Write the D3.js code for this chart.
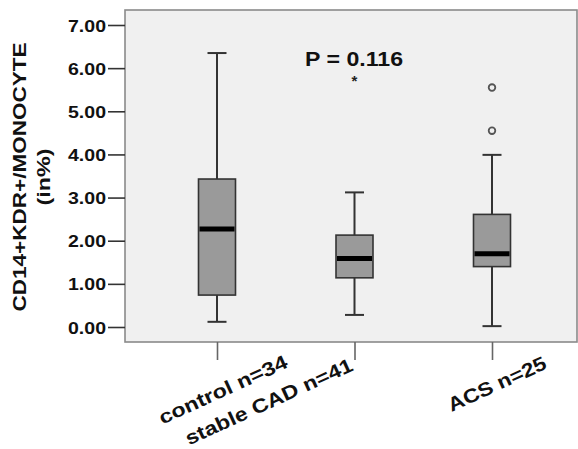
<!DOCTYPE html>
<html><head><meta charset="utf-8">
<script src="https://cdn.jsdelivr.net/npm/d3@7"></script>
<style>body{margin:0;background:#fff}svg{display:block}</style>
</head><body>
<svg id="c" width="578" height="449"></svg>
<script>
const categories = ["control n=34", "stable CAD n=41", "ACS n=25"];
const whiskerLow = [0.12, 0.28, 0.02];
const q1 = [0.74, 1.14, 1.40];
const median = [2.27, 1.59, 1.70];
const q3 = [3.43, 2.13, 2.61];
const whiskerHigh = [6.35, 3.12, 3.99];
const outliers = [[], [], [5.55, 4.55]];
const extremes = [[], [5.75], []];
const yTicks = [0, 1, 2, 3, 4, 5, 6, 7];
const pText = "P = 0.116";

const svg = d3.select("#c");
const plot = {left: 125, right: 577, top: 10, bottom: 342};
const y = d3.scaleLinear().domain([0, 7]).range([327, 25]);
const x = d3.scalePoint().domain(categories).range([217, 492]);
const font = "'Liberation Sans', Arial, sans-serif";

svg.append("rect").attr("x", plot.left).attr("y", plot.top)
  .attr("width", plot.right - plot.left).attr("height", plot.bottom - plot.top)
  .attr("fill", "#f0f0f0").attr("stroke", "#8a8a8a").attr("stroke-width", 1.6);

// y axis
const yAxis = svg.append("g").attr("transform", `translate(${plot.left},0)`)
  .call(d3.axisLeft(y).tickValues(yTicks).tickFormat(d3.format(".2f")).tickSize(17).tickPadding(2));
yAxis.select(".domain").remove();
yAxis.selectAll(".tick line").attr("stroke", "#333").attr("stroke-width", 1.6);
yAxis.selectAll(".tick text").attr("font-family", font).attr("font-weight", "bold")
  .attr("font-size", 17).attr("fill", "#111").attr("dy", "0.36em")
  .attr("textLength", 38).attr("lengthAdjust", "spacingAndGlyphs");

// x axis
const xAxis = svg.append("g").attr("transform", `translate(0,${plot.bottom})`)
  .call(d3.axisBottom(x).tickSize(18).tickFormat(""));
xAxis.select(".domain").remove();
xAxis.selectAll(".tick line").attr("stroke", "#666").attr("stroke-width", 1.6);

const labelOff = [[72, 25], [0, 28], [56, 26]];
const labelLen = [139, 182, 106];
categories.forEach((c, i) => {
  svg.append("text")
    .attr("transform", `translate(${x(c) + labelOff[i][0]},${plot.bottom + labelOff[i][1]}) rotate(-24.5)`)
    .attr("text-anchor", "end").attr("font-family", font).attr("font-weight", "bold")
    .attr("font-size", 19.5).attr("fill", "#111")
    .attr("textLength", labelLen[i]).attr("lengthAdjust", "spacingAndGlyphs")
    .text(c);
});

// y title
const tcy = (plot.top + plot.bottom) / 2 + 1;
svg.append("text").attr("transform", `translate(26,${tcy}) rotate(-90)`)
  .attr("text-anchor", "middle").attr("font-family", font).attr("font-weight", "bold")
  .attr("font-size", 18.5).attr("fill", "#111")
  .attr("textLength", 269).attr("lengthAdjust", "spacingAndGlyphs")
  .text("CD14+KDR+/MONOCYTE");
svg.append("text").attr("transform", `translate(50,${tcy}) rotate(-90)`)
  .attr("text-anchor", "middle").attr("font-family", font).attr("font-weight", "bold")
  .attr("font-size", 18.5).attr("fill", "#111")
  .attr("textLength", 57).attr("lengthAdjust", "spacingAndGlyphs")
  .text("(in%)");

// boxes
const bw = 37, cw = 19;
categories.forEach((c, i) => {
  const cx = x(c);
  const g = svg.append("g");
  g.append("line").attr("x1", cx).attr("x2", cx).attr("y1", y(whiskerHigh[i])).attr("y2", y(q3[i]))
    .attr("stroke", "#333").attr("stroke-width", 2);
  g.append("line").attr("x1", cx).attr("x2", cx).attr("y1", y(q1[i])).attr("y2", y(whiskerLow[i]))
    .attr("stroke", "#333").attr("stroke-width", 2);
  [whiskerHigh[i], whiskerLow[i]].forEach(v => {
    g.append("line").attr("x1", cx - cw / 2).attr("x2", cx + cw / 2).attr("y1", y(v)).attr("y2", y(v))
      .attr("stroke", "#333").attr("stroke-width", 2);
  });
  g.append("rect").attr("x", cx - bw / 2).attr("y", y(q3[i])).attr("width", bw)
    .attr("height", y(q1[i]) - y(q3[i])).attr("fill", "#9a9a9a").attr("stroke", "#333").attr("stroke-width", 1.6);
  g.append("line").attr("x1", cx - bw / 2 + 1).attr("x2", cx + bw / 2 - 1).attr("y1", y(median[i])).attr("y2", y(median[i]))
    .attr("stroke", "#000").attr("stroke-width", 5);
  outliers[i].forEach(v => {
    g.append("circle").attr("cx", cx).attr("cy", y(v)).attr("r", 3.3)
      .attr("fill", "none").attr("stroke", "#555").attr("stroke-width", 1.8);
  });
  extremes[i].forEach(v => {
    g.append("text").attr("x", cx).attr("y", y(v) + 7).attr("text-anchor", "middle")
      .attr("font-family", font).attr("font-weight", "bold").attr("font-size", 15).attr("fill", "#222")
      .text("*");
  });
});

svg.append("text").attr("x", 305).attr("y", 66).attr("font-family", font).attr("font-weight", "bold")
  .attr("font-size", 21).attr("fill", "#111").attr("textLength", 98).attr("lengthAdjust", "spacingAndGlyphs")
  .text(pText);
</script>
</body></html>
